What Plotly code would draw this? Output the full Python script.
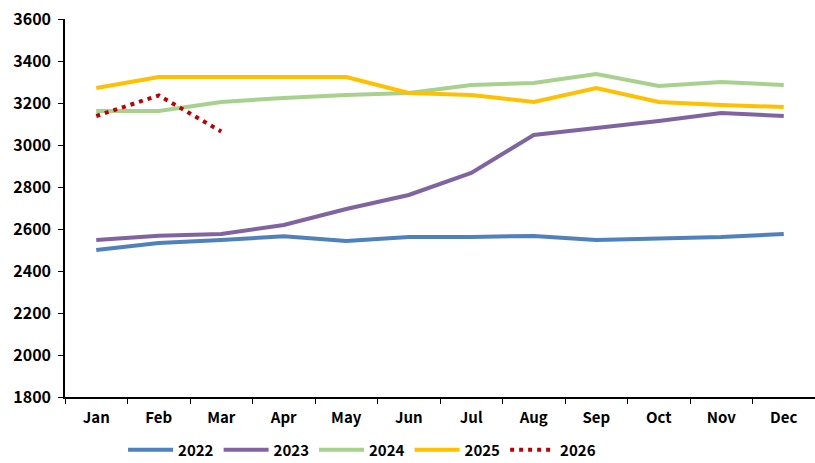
import plotly.graph_objects as go

months = ["Jan", "Feb", "Mar", "Apr", "May", "Jun", "Jul", "Aug", "Sep", "Oct", "Nov", "Dec"]
y2022 = [2500, 2533, 2548, 2565, 2543, 2562, 2562, 2567, 2548, 2557, 2562, 2576]
y2023 = [2548, 2568, 2576, 2619, 2695, 2762, 2867, 3048, 3081, 3114, 3152, 3138]
y2024 = [3162, 3162, 3205, 3224, 3238, 3248, 3286, 3295, 3338, 3281, 3300, 3286]
y2025 = [3271, 3324, 3324, 3324, 3324, 3248, 3238, 3205, 3271, 3205, 3190, 3181]
y2026 = [3138, 3236, 3064]

series = [
    ("2022", y2022, "#4F81BD", "solid"),
    ("2023", y2023, "#8064A2", "solid"),
    ("2024", y2024, "#A9D18E", "solid"),
    ("2025", y2025, "#FFC000", "solid"),
    ("2026", y2026, "#C00000", "4px,5px"),
]

fig = go.Figure()
for name, vals, color, dash in series:
    fig.add_trace(go.Scatter(
        x=months[:len(vals)], y=vals, name=name, mode="lines",
        line=dict(color=color, width=4, dash=dash),
    ))

font_family = "Noto Sans CJK SC, SimHei, sans-serif"
fig.update_layout(
    width=815, height=463,
    margin=dict(l=65, r=0, t=19, b=66, autoexpand=False),
    plot_bgcolor="white", paper_bgcolor="white",
    font=dict(family=font_family, size=14, color="black"),
    showlegend=True,
    legend=dict(orientation="h", xref="container", x=0.151, xanchor="left",
                yref="container", y=0.028, yanchor="middle",
                font=dict(size=15, family=font_family, weight="bold"),
                itemwidth=45, tracegroupgap=0),
    xaxis=dict(
        type="category", categoryorder="array", categoryarray=months,
        range=[-0.5, 11.5], automargin=False,
        showline=True, linecolor="black", linewidth=1.5,
        ticks="outside", tickson="boundaries", ticklen=5, tickcolor="black",
        ticklabelstandoff=6,
        showgrid=False, zeroline=False,
        tickfont=dict(size=15, family=font_family, weight="bold"),
    ),
    yaxis=dict(
        range=[1800, 3600], dtick=200, automargin=False,
        showline=True, linecolor="black", linewidth=1.5,
        ticks="outside", ticklen=5, tickcolor="black",
        ticklabelstandoff=4,
        showgrid=False, zeroline=False,
        tickfont=dict(size=16, family=font_family, weight="bold"),
    ),
)

# remove the default page margin so the figure fills the window exactly
fig.write_html("out.html", config={"displayModeBar": False},
               post_script="document.body.style.margin='0';")
